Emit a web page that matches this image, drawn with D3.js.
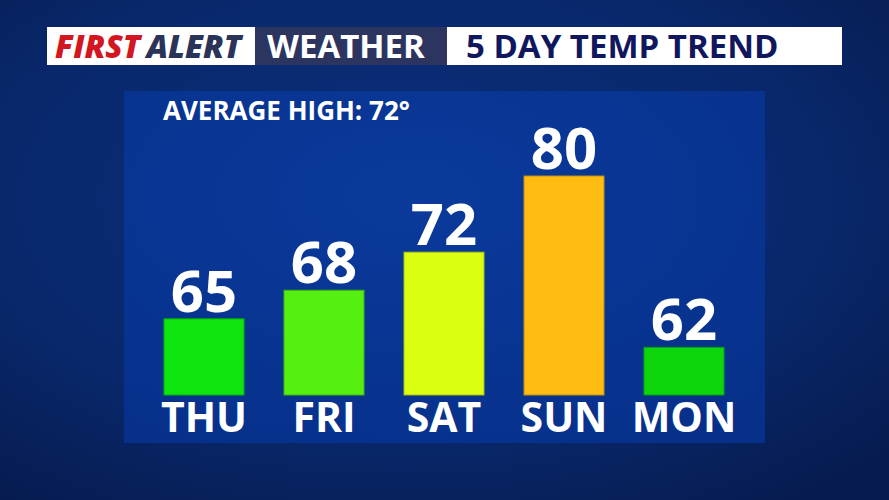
<!DOCTYPE html>
<html><head><meta charset="utf-8">
<script src="https://cdn.jsdelivr.net/npm/d3@7"></script>
<style>html,body{margin:0;padding:0;background:#08245f;overflow:hidden}</style>
</head><body>
<svg id="c" width="889" height="500"></svg>
<script>
const days = ["THU", "FRI", "SAT", "SUN", "MON"];
const highs = [65, 68, 72, 80, 62];
const barColors = ["#0ee50e", "#55f00f", "#dcfe10", "#febd10", "#0dd60d"];
const averageHigh = 72;
const titleParts = ["FIRST", "ALERT", "WEATHER", "5 DAY TEMP TREND"];

const svg = d3.select("#c");
const defs = svg.append("defs");
const bg = defs.append("radialGradient").attr("id","bg").attr("cx","45%").attr("cy","40%").attr("r","75%");
bg.append("stop").attr("offset","0%").attr("stop-color","#0b2f7c");
bg.append("stop").attr("offset","60%").attr("stop-color","#09286c");
bg.append("stop").attr("offset","100%").attr("stop-color","#061c50");
const pg = defs.append("radialGradient").attr("id","pg").attr("cx","45%").attr("cy","30%").attr("r","80%");
pg.append("stop").attr("offset","0%").attr("stop-color","#0b3a9c");
pg.append("stop").attr("offset","100%").attr("stop-color","#06308a");

svg.append("rect").attr("width",889).attr("height",500).attr("fill","url(#bg)");

// header
const hdr = svg.append("g");
hdr.append("rect").attr("x",47).attr("y",27).attr("width",208).attr("height",38).attr("fill","#ffffff");
hdr.append("rect").attr("x",255).attr("y",27).attr("width",192).attr("height",38).attr("fill","#2b355f");
hdr.append("rect").attr("x",447).attr("y",27).attr("width",395).attr("height",38).attr("fill","#ffffff");
const ht = hdr.append("text").attr("x",55).attr("y",58)
  .attr("font-family","'Open Sans', sans-serif").attr("font-weight",800).attr("font-style","italic")
  .attr("font-size",32);
ht.append("tspan").attr("fill","#d3161f").text(titleParts[0]);
ht.append("tspan").attr("fill","#2a3358").attr("dx",6).text(titleParts[1]);
hdr.append("text").attr("x",267).attr("y",58).attr("fill","#ffffff")
  .attr("font-family","'Open Sans', sans-serif").attr("font-weight",700).attr("font-size",33)
  .text(titleParts[2]);
hdr.append("text").attr("x",466).attr("y",58).attr("fill","#10175c")
  .attr("font-family","'Open Sans', sans-serif").attr("font-weight",700).attr("font-size",33)
  .text(titleParts[3]);

// panel
svg.append("rect").attr("x",124).attr("y",91).attr("width",641).attr("height",352).attr("fill","url(#pg)");
svg.append("text").attr("x",163).attr("y",120).attr("fill","#ffffff")
  .attr("font-family","'Open Sans', sans-serif").attr("font-weight",700).attr("font-size",26)
  .text("AVERAGE HIGH: " + averageHigh + "°");

const x = d3.scaleBand().domain(days).range([144, 744]).paddingInner(1/3).paddingOuter(1/6);
const y = d3.scaleLinear().domain([57, 80]).range([395, 176]);

const g = svg.append("g");
g.selectAll("rect.bar").data(days).join("rect").attr("class","bar")
  .attr("x", d => x(d)).attr("width", x.bandwidth())
  .attr("y", (d,i) => y(highs[i])).attr("height", (d,i) => y.range()[0] - y(highs[i]))
  .attr("fill", (d,i) => barColors[i])
  .attr("stroke", (d,i) => d3.color(barColors[i]).darker(0.8)).attr("stroke-width",1);

g.selectAll("text.val").data(days).join("text").attr("class","val")
  .attr("x", d => x(d) + x.bandwidth()/2).attr("y", (d,i) => y(highs[i]) - 7)
  .attr("text-anchor","middle").attr("fill","#ffffff")
  .attr("font-family","'Open Sans', sans-serif").attr("font-weight",700).attr("font-size",58)
  .text((d,i) => highs[i]);

const xAxis = d3.axisBottom(x).tickSize(0).tickPadding(0);
const ax = svg.append("g").attr("transform","translate(0,432)").call(xAxis);
ax.select(".domain").remove();
ax.selectAll("text").attr("dy",0).attr("fill","#ffffff")
  .attr("font-family","'Open Sans', sans-serif").attr("font-weight",700).attr("font-size",41);
</script>
</body></html>
